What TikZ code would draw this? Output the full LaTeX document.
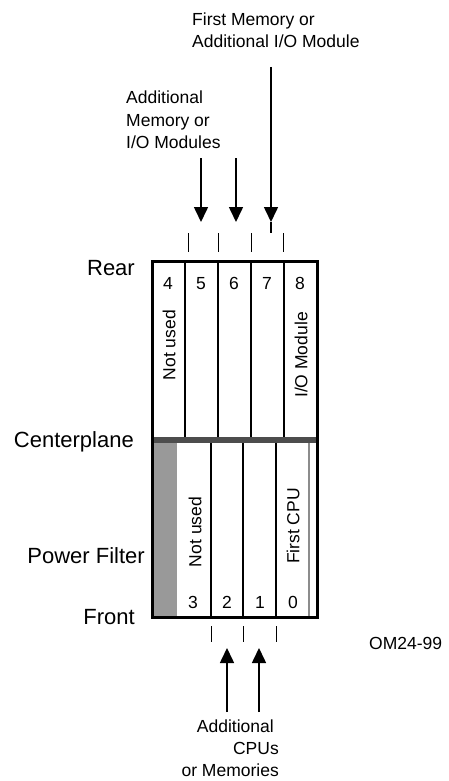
\documentclass[tikz,border=0pt]{standalone}
\usepackage{fontspec}
\setmainfont{Liberation Sans}
\usetikzlibrary{arrows.meta}
\definecolor{cplane}{HTML}{4D4D4D}
\definecolor{cfilter}{HTML}{999999}
\definecolor{cgrey}{HTML}{8C8C8C}
\tikzset{
  every picture/.style={x=1pt, y=-1pt},
  side/.style={font=\fontsize{22}{26}\selectfont, anchor=base east, inner sep=0pt},
  note/.style={font=\fontsize{17.5}{22}\selectfont, inner sep=0pt},
  num/.style={note, anchor=base},
  upright/.style={note, rotate=90},
  slot/.style={line width=1.6pt},
  tick/.style={line width=0.9pt},
  feed/.style={-{Triangle[length=15pt, width=14pt]}, line width=1.6pt},
}

\begin{document}
\begin{tikzpicture}
  \useasboundingbox (0,0) rectangle (448,781);

  % card cage: filter strip, centerplane, slot dividers
  \fill[cfilter] (152,443) rectangle (177,617);
  \draw[slot] (185,261) -- (185,437) (218,261) -- (218,437)
              (251,261) -- (251,437) (284,261) -- (284,437);
  \draw[slot] (211,443) -- (211,617) (243,443) -- (243,617) (276,443) -- (276,617);
  \draw[slot, draw=cgrey] (309,443) -- (309,617);
  \fill[cplane] (152,437) rectangle (317,443);
  \draw[line width=3pt] (152,261) rectangle (317,617);

  % side labels
  \node[side] (rear) at (135,275) {Rear};
  \node[side] (center) at (134,447) {Centerplane};
  \node[side] (filter) at (145,563) {Power Filter};
  \node[side] (front) at (135,624) {Front};

  % slot numbers
  \node[num] (s4) at (168,289) {4};
  \node[num] (s5) at (201,289) {5};
  \node[num] (s6) at (234,289) {6};
  \node[num] (s7) at (267,289) {7};
  \node[num] (s8) at (300,289) {8};
  \node[num] (s3) at (193,608) {3};
  \node[num] (s2) at (227,608) {2};
  \node[num] (s1) at (260,608) {1};
  \node[num] (s0) at (293,608) {0};

  % slot contents
  \node[upright, anchor=east] (unused4) at (169,310) {Not used};
  \node[upright, anchor=east] (iomod) at (301,312) {I/O Module};
  \node[upright] (unused3) at (195,532) {Not used};
  \node[upright] (cpu) at (293,526) {First CPU};

  % slot ticks
  \draw[tick] (188,233) -- (188,252) (218,233) -- (218,252)
              (251,233) -- (251,252) (283,233) -- (283,252);
  \draw[tick] (211,626) -- (211,642) (243,626) -- (243,642) (276,626) -- (276,642);

  % insertion arrows
  \node[note, anchor=base west, align=left] (firstmem) at (192,48) {First Memory or\\Additional I/O Module};
  \node[note, anchor=base west, align=left] (addmem) at (126,148) {Additional\\Memory or\\I/O Modules};
  \coordinate (a5) at (201,158);
  \coordinate (a6) at (236,158);
  \coordinate (a7) at (271,67);
  \coordinate (h5) at (201,222);
  \coordinate (h6) at (236,222);
  \coordinate (h7) at (271,222);
  \coordinate (h7end) at (271,233);
  \draw[feed] (a5) -- (h5);
  \draw[feed] (a6) -- (h6);
  \draw[feed] (a7) -- (h7);
  \draw[slot] (h7) -- (h7end);

  \node[note, anchor=base east, align=right] (addcpu) at (279,776) {Additional\hspace*{5pt}\\CPUs\\or Memories};
  \coordinate (b2) at (227,712);
  \coordinate (b1) at (259,712);
  \coordinate (g2) at (227,648);
  \coordinate (g1) at (259,648);
  \draw[feed] (b2) -- (g2);
  \draw[feed] (b1) -- (g1);

  \node[note, anchor=base west] (figno) at (369,649) {OM24-99};
\end{tikzpicture}
\end{document}
